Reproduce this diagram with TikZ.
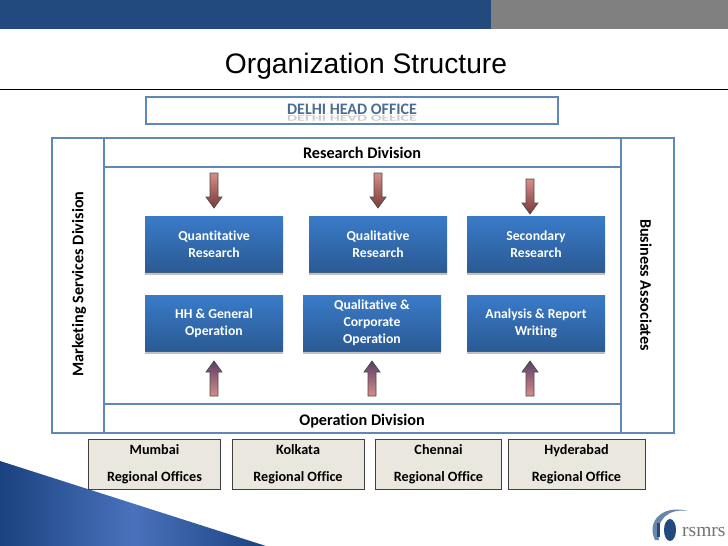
\documentclass[tikz,border=0pt]{standalone}
\usepackage{fontspec}
\setmainfont[Ligatures=CommonOff]{Carlito}
\newfontfamily\titlefont{Liberation Sans}
\newfontfamily\logofont{Liberation Serif}
\definecolor{barblue}{HTML}{224A7F}
\definecolor{bargray}{HTML}{808080}
\definecolor{frameblue}{HTML}{5F88B8}
\definecolor{boxtop}{HTML}{3A7BC8}
\definecolor{boxbot}{HTML}{2A5A94}
\definecolor{officefill}{HTML}{EAE7DE}
\definecolor{arrowtop}{HTML}{D98C88}
\definecolor{arrowbot}{HTML}{7A3A38}
\definecolor{arrowup}{HTML}{5A3E68}
\definecolor{triedge}{HTML}{1A4280}
\definecolor{trimid}{HTML}{4A72BC}
\tikzset{
  framebox/.style={draw=frameblue,line width=2pt,fill=white,inner sep=0pt},
  bluebox/.style={top color=boxtop,bottom color=boxbot,draw=none,text=white,font=\bfseries\fontsize{13.7}{17}\selectfont,align=center,inner sep=0pt,minimum width=138pt,minimum height=56pt},
  boxshadow/.style={fill=black!60,opacity=.4},
  officebox/.style={fill=officefill,draw=black!75,line width=1pt,font=\bfseries\fontsize{14.2}{27}\selectfont,align=center,inner sep=0pt,minimum height=50pt},
  divlabel/.style={font=\bfseries\fontsize{16.2}{15}\selectfont,text=black},
  downarrow/.style={draw=black!70,line width=.7pt,top color=arrowtop,bottom color=arrowbot},
  uparrow/.style={draw=black!70,line width=.7pt,top color=arrowup,bottom color=arrowtop},
}
\newcommand{\dnarrow}[3]{\draw[downarrow] (#1-4,#2) -- (#1+4,#2) -- (#1+4,#3-11) -- (#1+8,#3-11) -- (#1,#3) -- (#1-8,#3-11) -- (#1-4,#3-11) -- cycle;}
\newcommand{\uparr}[3]{\draw[uparrow] (#1-4,#2) -- (#1+4,#2) -- (#1+4,#3+11) -- (#1+8,#3+11) -- (#1,#3) -- (#1-8,#3+11) -- (#1-4,#3+11) -- cycle;}
\newcommand{\boxshade}[1]{\fill[boxshadow] (#1.south west) rectangle ([yshift=-2.5pt]#1.south east);}
\begin{document}
\begin{tikzpicture}[x=1pt,y=-1pt]
\useasboundingbox (0,0) rectangle (728,546);
\fill[white] (0,0) rectangle (728,546);
% top bars
\fill[barblue] (0,0) rectangle (491,29);
\fill[bargray] (491,0) rectangle (728,29);
% title
\node[font=\titlefont\fontsize{28.2}{30}\selectfont,anchor=center] (title) at (366,66) {Organization Structure};
\draw[black,line width=.8pt] (0,89.5) -- (728,89.5);
% head office
\node[framebox,minimum width=412pt,minimum height=27pt] (head) at (352,110.5) {};
\node[font=\bfseries\fontsize{16}{15}\selectfont,text=black!35,yscale=-0.55,opacity=.55] (headrefl) at (352,118) {DELHI HEAD OFFICE};
\node[font=\bfseries\fontsize{16}{15}\selectfont,text=frameblue!80!black] (headtxt) at (352,109.5) {DELHI HEAD OFFICE};
% corner triangle
\shade[left color=triedge,right color=triedge,middle color=trimid] (0,461) -- (266,546) -- (0,546) -- cycle;
% side frames
\node[framebox,minimum width=52pt,minimum height=295pt] (mkt) at (78,285) {};
\node[framebox,minimum width=53pt,minimum height=295pt] (biz) at (647,285) {};
\node[divlabel,rotate=90] (mkttxt) at (79,284) {Marketing Services Division};
\node[divlabel,rotate=-90] (biztxt) at (646,285) {Business Associates};
% main
\node[framebox,minimum width=517pt,minimum height=266pt] (main) at (362,285) {};
\node[framebox,minimum width=517pt,minimum height=29pt] (res) at (362,152) {};
\node[divlabel] (restxt) at (362,153) {Research Division};
\node[framebox,minimum width=517pt,minimum height=29pt] (op) at (362,418.5) {};
\node[divlabel] (optxt) at (362,421) {Operation Division};
% blue boxes
\node[bluebox] (q1) at (214,244) {Quantitative\\Research};
\node[bluebox] (q2) at (378,244) {Qualitative\\Research};
\node[bluebox] (q3) at (536,244) {Secondary\\Research};
\node[bluebox] (o1) at (214,323) {HH \& General\\Operation};
\node[bluebox] (o2) at (372,323) {Qualitative \&\\Corporate\\Operation};
\node[bluebox] (o3) at (536,323) {Analysis \& Report\\Writing};
\boxshade{q1}\boxshade{q2}\boxshade{q3}\boxshade{o1}\boxshade{o2}\boxshade{o3}
% arrows
\dnarrow{214}{173}{208}
\dnarrow{378}{173}{208}
\dnarrow{530}{179}{214}
\uparr{214}{396}{361}
\uparr{372}{396}{361}
\uparr{530}{396}{361}
% offices
\node[officebox,minimum width=132pt] (mum) at (154.5,464) {Mumbai\\Regional Offices};
\node[officebox,minimum width=132pt] (kol) at (298,464) {Kolkata\\Regional Office};
\node[officebox,minimum width=126pt] (che) at (438.5,464) {Chennai\\Regional Office};
\node[officebox,minimum width=137pt] (hyd) at (576.5,464) {Hyderabad\\Regional Office};
% logo
\fill[frameblue!70!gray] (655,540) .. controls (646,522) and (662,504) .. (688,511)
   .. controls (668,508) and (655,520) .. (659,540) -- cycle;
\fill[barblue] (657,523) rectangle (660,537);
\fill[barblue] (670,530) ellipse (6 and 11);
\node[font=\logofont\fontsize{19.5}{20}\selectfont,text=black!55,anchor=west,inner sep=0pt] (logo) at (682,532) {rsmrs};
\end{tikzpicture}
\end{document}
